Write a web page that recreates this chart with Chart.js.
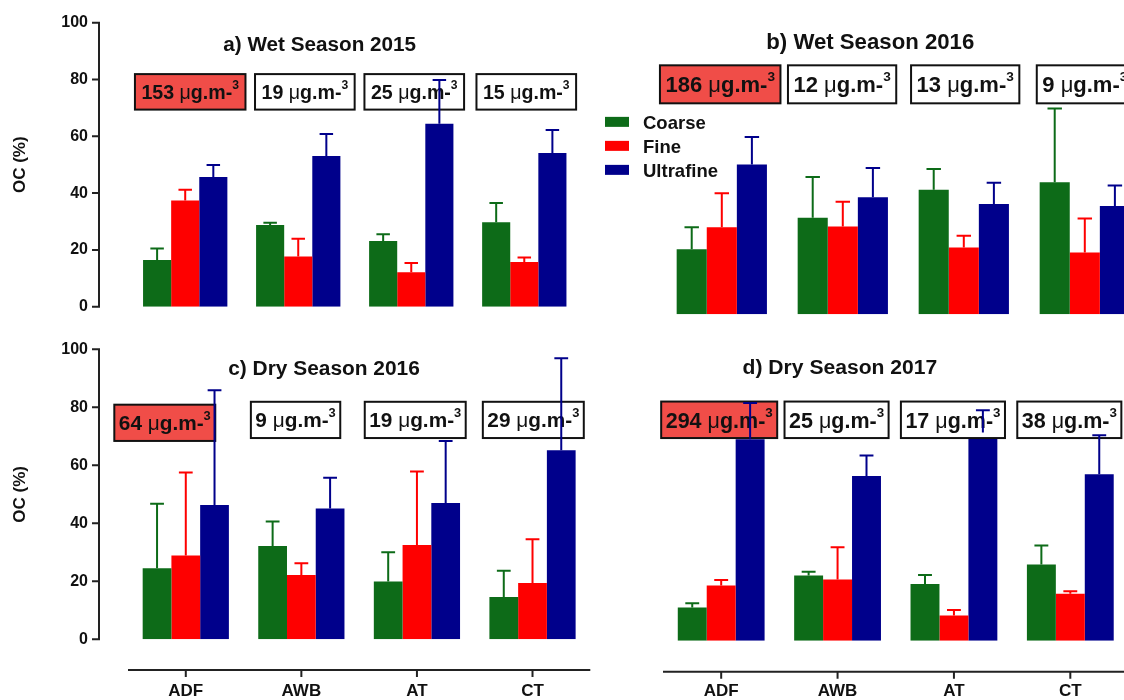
<!DOCTYPE html>
<html><head><meta charset="utf-8">
<script src="https://cdn.jsdelivr.net/npm/chart.js@4.4.1/dist/chart.umd.min.js"></script>
<style>
html,body{margin:0;padding:0;background:#fff;overflow:hidden;width:1124px;height:700px;position:relative;}
canvas{position:absolute;}
</style></head><body>
<canvas id="pa"></canvas><canvas id="pb"></canvas><canvas id="pc"></canvas><canvas id="pd"></canvas>
<script>
// ---------- data ----------
const categories = ['ADF', 'AWB', 'AT', 'CT'];
const seriesNames = ['Coarse', 'Fine', 'Ultrafine'];
const yTicks = [0, 20, 40, 60, 80, 100];
const yTitle = 'OC (%)';

// a) Wet Season 2015
const wet2015Coarse = [16.4, 28.8, 23.1, 29.7];
const wet2015CoarseErr = [4.1, 0.8, 2.4, 6.8];
const wet2015Fine = [37.4, 17.7, 12.1, 15.7];
const wet2015FineErr = [3.8, 6.2, 3.3, 1.6];
const wet2015Ultrafine = [45.7, 53.1, 64.4, 54.1];
const wet2015UltrafineErr = [4.2, 7.7, 15.4, 8.1];
const wet2015Mass = ['153', '19', '25', '15'];

// b) Wet Season 2016
const wet2016Coarse = [21.4, 31.8, 41.0, 43.4];
const wet2016CoarseErr = [7.2, 13.4, 6.8, 24.3];
const wet2016Fine = [28.6, 28.9, 22.0, 20.3];
const wet2016FineErr = [11.2, 8.1, 3.8, 11.2];
const wet2016Ultrafine = [49.3, 38.5, 36.3, 35.6];
const wet2016UltrafineErr = [9.0, 9.6, 7.0, 6.8];
const wet2016Mass = ['186', '12', '13', '9'];

// c) Dry Season 2016
const dry2016Coarse = [24.5, 32.2, 19.9, 14.6];
const dry2016CoarseErr = [22.2, 8.4, 10.1, 9.0];
const dry2016Fine = [28.9, 22.2, 32.5, 19.4];
const dry2016FineErr = [28.6, 4.0, 25.4, 15.1];
const dry2016Ultrafine = [46.3, 45.1, 47.0, 65.2];
const dry2016UltrafineErr = [39.6, 10.6, 21.4, 31.7];
const dry2016Mass = ['64', '9', '19', '29'];

// d) Dry Season 2017
const dry2017Coarse = [11.4, 22.3, 19.4, 26.1];
const dry2017CoarseErr = [1.4, 1.3, 3.1, 6.5];
const dry2017Fine = [18.9, 21.0, 8.6, 16.1];
const dry2017FineErr = [1.9, 11.0, 1.9, 0.8];
const dry2017Ultrafine = [69.0, 56.4, 71.3, 57.0];
const dry2017UltrafineErr = [12.4, 7.0, 7.6, 13.4];
const dry2017Mass = ['294', '25', '17', '38'];

// ---------- styling ----------
const FF = '"Liberation Sans", Arial, Helvetica, sans-serif';
const colors = ['#0d6b18', '#fe0000', '#00008b'];
const INK = '#111';

const decor = {
  id: 'decor',
  afterDatasetsDraw(chart, args, o) {
    const ctx = chart.ctx, xs = chart.scales.x, ys = chart.scales.y, ca = chart.chartArea;
    const step = xs.getPixelForTick(1) - xs.getPixelForTick(0);
    ctx.save();
    // concentration boxes
    o.mass.forEach((num, i) => {
      const fs = o.boxFont;
      const dv = (o.boxDv && o.boxDv[i]) || 0;
      const yT = ys.getPixelForValue(o.boxTop + dv), yB = ys.getPixelForValue(o.boxBottom + dv);
      const parts = [
        {t: num + ' ', f: `bold ${fs}px ${FF}`, dy: 0},
        {t: '\u03bc', f: `${fs}px ${FF}`, dy: 0},
        {t: 'g.m-', f: `bold ${fs}px ${FF}`, dy: 0},
        {t: '3', f: `bold ${fs * 0.62}px ${FF}`, dy: -0.5 * fs}
      ];
      let tw = 0;
      parts.forEach(p => { ctx.font = p.f; p.w = ctx.measureText(p.t).width; tw += p.w; });
      const cx = xs.getPixelForTick(i) + o.boxDx[i];
      const w = tw + 2 * o.boxPad;
      ctx.fillStyle = i === o.highlight ? '#f04d48' : '#fff';
      ctx.fillRect(cx - w / 2, yT, w, yB - yT);
      ctx.strokeStyle = INK; ctx.lineWidth = 2;
      ctx.strokeRect(cx - w / 2, yT, w, yB - yT);
      let x = cx - tw / 2;
      const base = (yT + yB) / 2 + 0.36 * fs;
      ctx.fillStyle = INK; ctx.textAlign = 'left'; ctx.textBaseline = 'alphabetic';
      parts.forEach(p => { ctx.font = p.f; ctx.fillText(p.t, x, base + p.dy); x += p.w; });
    });
    // error bars (upper only)
    chart.data.datasets.forEach((ds, di) => {
      const meta = chart.getDatasetMeta(di);
      meta.data.forEach((bar, i) => {
        const yTop = ys.getPixelForValue(ds.data[i] + ds.errors[i]);
        const half = bar.width * 0.24;
        ctx.strokeStyle = ds.backgroundColor; ctx.lineWidth = 2;
        ctx.beginPath();
        ctx.moveTo(bar.x, bar.y); ctx.lineTo(bar.x, yTop);
        ctx.moveTo(bar.x - half, yTop); ctx.lineTo(bar.x + half, yTop);
        ctx.stroke();
      });
    });
    // panel title
    ctx.font = `bold ${o.titleFont}px ${FF}`;
    ctx.fillStyle = INK; ctx.textAlign = 'center'; ctx.textBaseline = 'alphabetic';
    ctx.fillText(o.title, xs.getPixelForTick(0) + o.titleIdx * step, ys.getPixelForValue(o.titleValue) + 0.36 * o.titleFont);
    // offset y axis
    if (o.yAxisGap) {
      const ax = ca.left - o.yAxisGap;
      ctx.strokeStyle = '#222'; ctx.lineWidth = 2;
      ctx.beginPath();
      ctx.moveTo(ax, ys.getPixelForValue(yTicks[0]) + 1); ctx.lineTo(ax, ys.getPixelForValue(yTicks[yTicks.length - 1]) - 1);
      yTicks.forEach(v => { const py = ys.getPixelForValue(v); ctx.moveTo(ax - 7, py); ctx.lineTo(ax, py); });
      ctx.stroke();
    }
    // offset x axis
    if (o.xAxisGap) {
      const ay = ca.bottom + o.xAxisGap;
      ctx.strokeStyle = '#222'; ctx.lineWidth = 2;
      ctx.beginPath();
      ctx.moveTo(ca.left, ay); ctx.lineTo(ca.right, ay);
      categories.forEach((c, i) => { const px = xs.getPixelForTick(i); ctx.moveTo(px, ay); ctx.lineTo(px, ay + 7); });
      ctx.stroke();
    }
    // legend
    if (o.legend) {
      const lx = ca.left + o.legend.dx;
      let ly = ys.getPixelForValue(o.legend.value);
      ctx.font = `bold ${o.legend.font}px ${FF}`;
      chart.data.datasets.forEach(ds => {
        ctx.fillStyle = ds.backgroundColor;
        ctx.fillRect(lx, ly - 5, 24, 10);
        ctx.fillStyle = INK; ctx.textAlign = 'left';
        ctx.fillText(ds.label, lx + 38, ly + 0.36 * o.legend.font);
        ly += o.legend.step;
      });
    }
    ctx.restore();
  }
};

function makePanel(p) {
  const cv = document.getElementById(p.id);
  cv.width = p.w; cv.height = p.h;
  cv.style.left = p.x + 'px'; cv.style.top = p.y + 'px';
  cv.style.width = p.w + 'px'; cv.style.height = p.h + 'px';
  new Chart(cv, {
    type: 'bar',
    data: {
      labels: categories,
      datasets: seriesNames.map((n, i) => ({
        label: n, data: p.values[i], errors: p.errors[i],
        backgroundColor: colors[i], borderWidth: 0,
        categoryPercentage: 0.746, barPercentage: 1
      }))
    },
    options: {
      responsive: false, animation: false, devicePixelRatio: 1,
      layout: {padding: p.padding},
      plugins: {
        legend: {display: false}, tooltip: {enabled: false}, title: {display: false},
        decor: p.decor
      },
      scales: {
        x: {
          display: p.showX,
          grid: {display: false, drawTicks: true, tickLength: p.xPad || 0}, border: {display: false},
          ticks: {padding: 0, color: INK, maxRotation: 0, autoSkip: false,
                  font: {family: FF, size: 17, weight: 'bold'}},
          afterFit: s => { s.height = p.showX ? p.xHeight : 0; }
        },
        y: {
          display: p.showY, min: 0, max: 100,
          afterBuildTicks: s => { s.ticks = yTicks.map(v => ({value: v})); },
          grid: {display: false, drawTicks: true, tickLength: p.yPad || 0}, border: {display: false},
          ticks: {padding: 0, color: INK, font: {family: FF, size: 16, weight: 'bold'}},
          title: {display: true, text: yTitle, color: INK, padding: {top: 10, bottom: 0},
                  font: {family: FF, size: 17, weight: 'bold'}},
          afterFit: s => { s.width = p.showY ? p.yWidth : 0; }
        }
      }
    },
    plugins: [decor]
  });
}

const boxTop = 81.9, boxBottom = 69.4;

makePanel({
  id: 'pa', x: 0, y: 0, w: 600, h: 330,
  padding: {left: 0, right: 19.2, top: 22.7, bottom: 23.3},
  showX: false, showY: true, yWidth: 128.7, yPad: 40.7,
  values: [wet2015Coarse, wet2015Fine, wet2015Ultrafine],
  errors: [wet2015CoarseErr, wet2015FineErr, wet2015UltrafineErr],
  decor: {title: 'a) Wet Season 2015', titleFont: 20.7, titleIdx: 1.19, titleValue: 92.7,
          mass: wet2015Mass, highlight: 0, boxFont: 19.6, boxPad: 6.5, boxDx: [5, 6.6, 3, 2],
          boxTop, boxBottom, yAxisGap: 29.7}
});
makePanel({
  id: 'pb', x: 562, y: 0, w: 600, h: 330,
  padding: {left: 99.3, right: 16.7, top: 10.3, bottom: 15.7},
  showX: false, showY: false,
  values: [wet2016Coarse, wet2016Fine, wet2016Ultrafine],
  errors: [wet2016CoarseErr, wet2016FineErr, wet2016UltrafineErr],
  decor: {title: 'b) Wet Season 2016', titleFont: 22.2, titleIdx: 1.227, titleValue: 90.0,
          mass: wet2016Mass, highlight: 0, boxFont: 22, boxPad: 5.5, boxDx: [-1.6, -0.7, 1.4, 0],
          boxTop, boxBottom,
          legend: {dx: -56.3, value: 63.3, step: 24, font: 18.5}}
});
makePanel({
  id: 'pc', x: 0, y: 330, w: 600, h: 370,
  padding: {left: 0, right: 9.7, top: 19.3, bottom: 0.7},
  showX: true, showY: true, yWidth: 128, yPad: 40, xPad: 41.5, xHeight: 60,
  values: [dry2016Coarse, dry2016Fine, dry2016Ultrafine],
  errors: [dry2016CoarseErr, dry2016FineErr, dry2016UltrafineErr],
  decor: {title: 'c) Dry Season 2016', titleFont: 20.9, titleIdx: 1.196, titleValue: 93.8,
          mass: dry2016Mass, highlight: 0, boxFont: 20.8, boxPad: 4.5, boxDx: [-21, -5.8, -1.7, 0.8],
          boxDv: [-1, 0, 0, 0], boxTop, boxBottom, yAxisGap: 29, xAxisGap: 30.7}
});
makePanel({
  id: 'pd', x: 562, y: 330, w: 600, h: 370,
  padding: {left: 101, right: 33.5, top: 18.7, bottom: 0.3},
  showX: true, showY: false, xPad: 40.5, xHeight: 59,
  values: [dry2017Coarse, dry2017Fine, dry2017Ultrafine],
  errors: [dry2017CoarseErr, dry2017FineErr, dry2017UltrafineErr],
  decor: {title: 'd) Dry Season 2017', titleFont: 21.1, titleIdx: 1.02, titleValue: 94.0,
          mass: dry2017Mass, highlight: 0, boxFont: 21.5, boxPad: 4.5, boxDx: [-2, -1, -1, -1],
          boxTop, boxBottom, xAxisGap: 31}
});
</script>
</body></html>
